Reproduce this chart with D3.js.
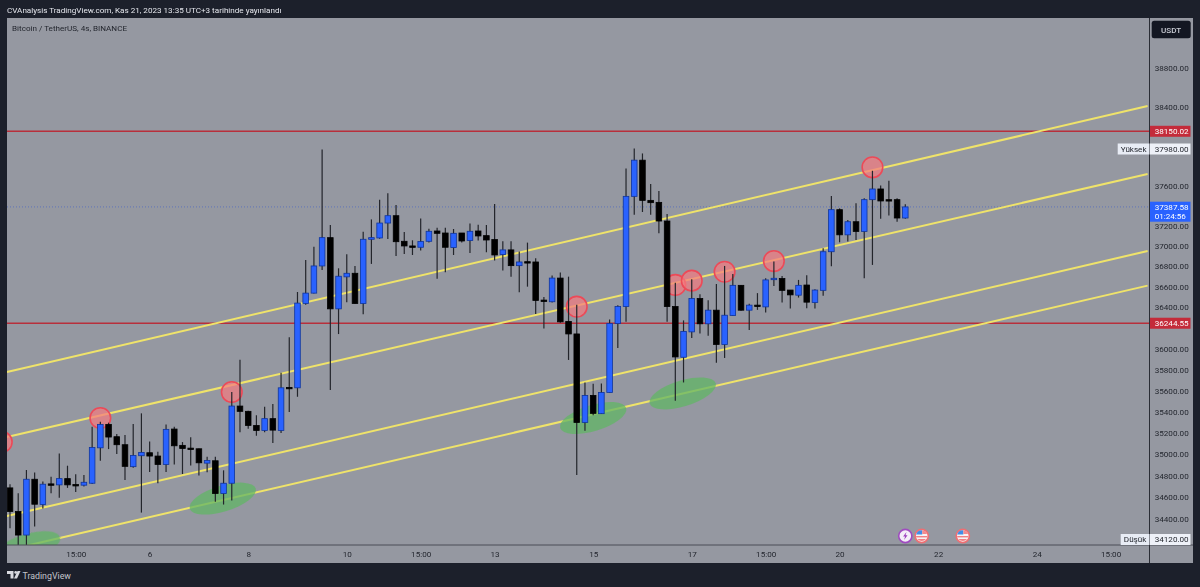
<!DOCTYPE html>
<html>
<head>
<meta charset="utf-8">
<style>
  html, body { margin: 0; padding: 0; background: #1c202b; overflow: hidden; }
  text { font-family: Roboto, "Liberation Sans", Arial, sans-serif; }
  .soft { filter: blur(0.3px); }
</style>
<script src="https://cdn.jsdelivr.net/npm/d3@7"></script>
</head>
<body>
<div id="chart"></div>
<script>
// 4h candles, one row per bar: open, high, low, close
var opens = [34686,34468,34252,34766,34532,34723,34714,34772,34717,34711,34729,35059,35279,35163,35088,34883,34985,35013,34982,34904,35235,35082,35056,35050,34916,34938,34634,34729,35452,35402,35269,35222,35333,35222,35629,35625,36436,36537,36803,37082,36384,36696,36731,36436,37066,37079,37227,37300,37046,37000,36987,37046,37148,37128,36984,37128,37053,37148,37102,37063,36915,36961,36806,36845,36842,36469,36453,36684,36262,36141,35297,35553,35380,35581,36242,36406,37493,37857,37453,37433,37247,36406,35917,36161,36484,36239,36371,36040,36319,36613,36371,36420,36403,36669,36679,36567,36517,36616,36445,36564,36943,37360,37110,37240,37144,37460,37567,37460,37460,37277];
var highs = [34720,34637,34852,34828,34745,34790,35006,34892,34812,34806,35257,35304,35295,35188,35178,35282,35383,35119,35022,35279,35257,35113,35157,35053,34975,34975,34849,35585,35893,35408,35365,35446,35471,35768,36108,36548,36862,36993,37965,37207,36780,36918,36803,37141,37263,37458,37525,37407,37138,37056,37272,37171,37181,37181,37168,37128,37223,37210,37207,37417,37046,37046,36944,37033,36878,36498,36709,36738,36698,36423,35676,35664,35667,36281,36420,37773,37975,37925,37617,37547,37317,36639,36272,36672,36527,36468,36626,36803,36725,36616,36433,36537,36682,36846,36705,36567,36666,36711,36574,36977,37497,37373,37257,37423,37473,37750,37603,37650,37473,37413];
var lows = [34314,34150,34150,34330,34495,34637,34594,34686,34649,34698,34723,34938,35047,35000,34760,34874,34458,34834,34729,34834,34904,34815,34895,34800,34831,34557,34532,34569,35206,35238,35172,35206,35103,35197,35395,35540,36423,36534,36764,35604,36140,36449,36433,36332,36823,37072,37069,36902,36921,36911,36954,37033,36678,36741,36911,37033,36931,37053,36938,36856,36758,36696,36545,36600,36335,36193,36446,36250,35891,34806,35219,35364,35377,35578,36006,36259,37310,37337,37310,37125,36259,35502,35676,36101,36145,36124,35864,35910,36316,36365,36178,36374,36348,36607,36445,36387,36494,36390,36387,36511,36800,37036,37043,37059,36682,36813,37270,37303,37240,37270];
var closes = [34468,34252,34766,34535,34720,34714,34772,34714,34711,34738,35062,35279,35160,35088,34886,34988,35016,34982,34904,35232,35078,35053,35047,34919,34941,34634,34729,35452,35402,35269,35222,35333,35225,35625,35622,36440,36537,36803,37082,36384,36702,36731,36436,37066,37082,37227,37300,37042,37000,36987,37043,37145,37125,36987,37125,37049,37145,37099,37059,36911,36961,36806,36842,36839,36466,36456,36684,36258,36141,35297,35553,35383,35581,36242,36406,37493,37857,37453,37430,37247,36406,35920,36165,36484,36239,36371,36040,36322,36613,36371,36420,36407,36666,36682,36564,36520,36613,36449,36567,36943,37360,37110,37240,37144,37460,37567,37447,37447,37277,37387.58];

var priceTicks = [38800,38400,37600,37200,37000,36800,36600,36400,36000,35800,35600,35400,35200,35000,34800,34600,34400];
var timeTickBars = [8,17,29,41,50,59,71,83,92,101,113,125,134];
var timeTickLabels = ["15:00","6","8","10","15:00","13","15","17","15:00","20","22","24","15:00"];

var hLevels = [38150.02, 36244.55];
var lastPrice = 37387.58;
var countdown = "01:24:56";
var highPrice = 37980.00;
var lowPrice = 34120.00;

// channel lines: bar, price, bar, price
var channelLines = [
  [-0.37,35775,138.5,38408],
  [-0.37,35161,138.5,37718],
  [-0.37,34426,138.5,36950],
  [-0.37,34113,138.5,36610]
];
// touches along the upper lines
var circleBars = [-1,11,27,69,81,83,87,93,105];
var circlePrices = [35114,35339,35585,36405,36617,36659,36746,36851,37785];
// touches along the lower lines
var ellipseBars = [2.07,25.9,71,81.9];
var ellipsePrices = [34141,34587,35339,35572];
// calendar markers on the bottom edge
var eventBars = [109,111,116];
var eventKinds = ["bolt","us","us"];

var svgWidth = 1200;
var svgHeight = 587;

var plot = { left: 7, top: 18, right: 1149.5, bottom: 545 };
var frameRight = 1193;
var frameBottom = 563;

var svg = d3.select("#chart").append("svg")
  .attr("width", svgWidth)
  .attr("height", svgHeight)
  .style("display", "block");

svg.append("rect").attr("width", svgWidth).attr("height", svgHeight).attr("fill", "#1c202b");
svg.append("rect")
  .attr("x", plot.left).attr("y", plot.top)
  .attr("width", frameRight - plot.left).attr("height", frameBottom - plot.top)
  .attr("fill", "#9598a1");

// log price scale, bar index on x
var x = d3.scaleLinear().domain([0, 109]).range([10, 905.3]);
var y = d3.scaleLog().domain([38800, 34400]).range([68, 518.9]);

svg.append("clipPath").attr("id", "plotClip").append("rect")
  .attr("x", plot.left).attr("y", plot.top)
  .attr("width", plot.right - plot.left).attr("height", plot.bottom - plot.top);

var chartGroup = svg.append("g").attr("clip-path", "url(#plotClip)").append("g").attr("class", "soft");

// last price dotted line
chartGroup.append("line")
  .attr("x1", plot.left).attr("x2", plot.right)
  .attr("y1", y(lastPrice)).attr("y2", y(lastPrice))
  .attr("stroke", "#5f74b8").attr("stroke-width", 1).attr("stroke-dasharray", "1,2");

chartGroup.selectAll(".level").data(hLevels).enter().append("line")
  .attr("x1", plot.left).attr("x2", plot.right)
  .attr("y1", d => y(d)).attr("y2", d => y(d))
  .attr("stroke", "#b82f3b").attr("stroke-width", 1.6);

chartGroup.selectAll(".channel").data(channelLines).enter().append("line")
  .attr("x1", d => x(d[0])).attr("y1", d => y(d[1]))
  .attr("x2", d => x(d[2])).attr("y2", d => y(d[3]))
  .attr("stroke", "#efe36a").attr("stroke-width", 2);

chartGroup.selectAll(".zone").data(ellipseBars).enter().append("ellipse")
  .attr("rx", 34.5).attr("ry", 13)
  .attr("transform", (d, i) => `translate(${x(d)},${y(ellipsePrices[i])}) rotate(-17)`)
  .attr("fill", "#62b565").attr("fill-opacity", 0.75);

chartGroup.selectAll(".touch").data(circleBars).enter().append("circle")
  .attr("cx", d => x(d))
  .attr("cy", (d, i) => y(circlePrices[i]))
  .attr("r", 10.3)
  .attr("fill", "#f47c80").attr("fill-opacity", 0.72)
  .attr("stroke", "#ec4a58").attr("stroke-width", 1.6);

// candles
var bars = d3.range(opens.length);

chartGroup.selectAll(".wick").data(bars).enter().append("line")
  .attr("x1", d => x(d)).attr("x2", d => x(d))
  .attr("y1", d => y(highs[d])).attr("y2", d => y(lows[d]))
  .attr("stroke", "#23252b").attr("stroke-width", 1.2);

chartGroup.selectAll(".body").data(bars).enter().append("rect")
  .attr("x", d => x(d) - 2.8)
  .attr("width", 5.6)
  .attr("y", d => y(Math.max(opens[d], closes[d])))
  .attr("height", d => Math.max(1.4, Math.abs(y(opens[d]) - y(closes[d]))))
  .attr("fill", d => closes[d] >= opens[d] ? "#2962ff" : "#000000")
  .attr("stroke", d => closes[d] >= opens[d] ? "#10359c" : "#000000")
  .attr("stroke-width", 0.8);

// calendar events
var events = svg.append("g");
eventBars.forEach(function(bar, i) {
  var g = events.append("g").attr("transform", `translate(${x(bar)},536)`);
  if (eventKinds[i] === "bolt") {
    g.append("circle").attr("r", 6.6).attr("fill", "#f4eef8").attr("stroke", "#a04cc0").attr("stroke-width", 1.6);
    g.append("path").attr("d", "M1.2,-4 L-2.2,0.6 L-0.2,0.6 L-1.2,4 L2.2,-0.8 L0.2,-0.8 Z").attr("fill", "#9c3fbe");
  } else {
    g.append("circle").attr("r", 6.6).attr("fill", "#f6f3f4").attr("stroke", "#ee6f73").attr("stroke-width", 1.6);
    g.append("path").attr("d", "M-5.5,-1.5 A5.8,5.8 0 0 1 0.5,-5.6 L0.5,-1.5 Z").attr("fill", "#3f8ee8");
    g.append("path").attr("d", "M0.5,-5.6 A5.8,5.8 0 0 1 5.4,-2 L0.5,-2 Z").attr("fill", "#f28a8d");
    g.append("rect").attr("x", -5.6).attr("y", 0).attr("width", 11.2).attr("height", 1.4).attr("fill", "#f08085");
    g.append("path").attr("d", "M-4.4,3 L4.4,3 A5.8,5.8 0 0 1 -4.4,3 Z").attr("fill", "#f08085");
  }
});

// borders
svg.append("line").attr("x1", plot.left).attr("x2", frameRight)
  .attr("y1", plot.bottom).attr("y2", plot.bottom)
  .attr("stroke", "#4a4d57").attr("stroke-width", 1);
svg.append("line").attr("x1", plot.right).attr("x2", plot.right)
  .attr("y1", plot.top).attr("y2", frameBottom)
  .attr("stroke", "#2a2d35").attr("stroke-width", 1);

var axisColor = "#23262e";
var axisFont = 8.1;

// price axis
var yAxis = d3.axisRight(y)
  .tickValues(priceTicks)
  .tickSize(0)
  .tickPadding(0)
  .tickFormat(d3.format(".2f"));
var yAxisGroup = svg.append("g")
  .attr("transform", `translate(${plot.right + 5.2},0)`)
  .call(yAxis);
yAxisGroup.select(".domain").remove();
yAxisGroup.selectAll("text")
  .attr("fill", axisColor)
  .style("font-size", axisFont + "px")
  .style("font-family", "Roboto");

// time axis
var xAxis = d3.axisBottom(x)
  .tickValues(timeTickBars)
  .tickSize(0)
  .tickPadding(6)
  .tickFormat((d, i) => timeTickLabels[i]);
var xAxisGroup = svg.append("g")
  .attr("transform", `translate(0,${plot.bottom})`)
  .call(xAxis);
xAxisGroup.select(".domain").remove();
xAxisGroup.selectAll("text")
  .attr("fill", axisColor)
  .style("font-size", axisFont + "px")
  .style("font-family", "Roboto");

// price labels on the axis
function priceLabel(cy, fill, color, txt) {
  svg.append("rect")
    .attr("x", plot.right + 0.5).attr("y", cy - 5.5)
    .attr("width", 40.5).attr("height", 11)
    .attr("fill", fill);
  svg.append("text")
    .attr("x", plot.right + 5.2).attr("y", cy + 2.9)
    .attr("fill", color).attr("font-size", axisFont)
    .text(txt);
}

priceLabel(y(hLevels[0]), "#c42b3a", "#ffffff", hLevels[0].toFixed(2));
priceLabel(y(hLevels[1]), "#c42b3a", "#ffffff", hLevels[1].toFixed(2));
priceLabel(149, "#eef1f8", axisColor, highPrice.toFixed(2));
priceLabel(539.5, "#eef1f8", axisColor, lowPrice.toFixed(2));

// high / low tags to the left of the axis
function sideTag(cy, w, txt) {
  svg.append("rect")
    .attr("x", plot.right - w).attr("y", cy - 5.5)
    .attr("width", w).attr("height", 11)
    .attr("fill", "#e8ecf5");
  svg.append("text")
    .attr("x", plot.right - w / 2).attr("y", cy + 2.9)
    .attr("text-anchor", "middle")
    .attr("fill", axisColor).attr("font-size", axisFont)
    .text(txt);
}
sideTag(149, 31.8, "Yüksek");
sideTag(539.5, 28.8, "Düşük");

// last price + countdown
svg.append("rect")
  .attr("x", plot.right + 0.5).attr("y", 201.7)
  .attr("width", 40.5).attr("height", 20)
  .attr("fill", "#2962ff");
svg.append("text").attr("x", plot.right + 5.2).attr("y", 210)
  .attr("fill", "#ffffff").attr("font-size", axisFont).text(lastPrice.toFixed(2));
svg.append("text").attr("x", plot.right + 5.2).attr("y", 219.3)
  .attr("fill", "#ffffff").attr("font-size", axisFont).text(countdown);

// currency button
svg.append("rect")
  .attr("x", 1151.7).attr("y", 20.7)
  .attr("width", 39).attr("height", 17.5).attr("rx", 2.5)
  .attr("fill", "#131722");
svg.append("text")
  .attr("x", 1171.2).attr("y", 32.6)
  .attr("text-anchor", "middle")
  .attr("fill", "#c9ccd4").attr("font-size", 8.1).attr("font-weight", 500)
  .text("USDT");

// titles
svg.append("text").attr("x", 7).attr("y", 12.7)
  .attr("fill", "#e4e6ec").attr("font-size", 8.1)
  .text("CVAnalysis TradingView.com, Kas 21, 2023 13:35 UTC+3 tarihinde yayınlandı");
svg.append("text").attr("x", 12).attr("y", 31)
  .attr("fill", "#23262e").attr("font-size", 8.1)
  .text("Bitcoin / TetherUS, 4s, BINANCE");

// footer logo
var logo = svg.append("g").attr("transform", "translate(7,571)").attr("fill", "#d8dae0");
logo.append("path").attr("d", "M0,0 H6.5 V7.5 H3.5 V3 H0 Z");
logo.append("circle").attr("cx", 8.7).attr("cy", 1.4).attr("r", 1.4);
logo.append("path").attr("d", "M10.5,0 H13.5 L10,7.5 H7 Z");
svg.append("text").attr("x", 22.5).attr("y", 578.5)
  .attr("fill", "#c4c6cc").attr("font-size", 8.8)
  .text("TradingView");
</script>
</body>
</html>
